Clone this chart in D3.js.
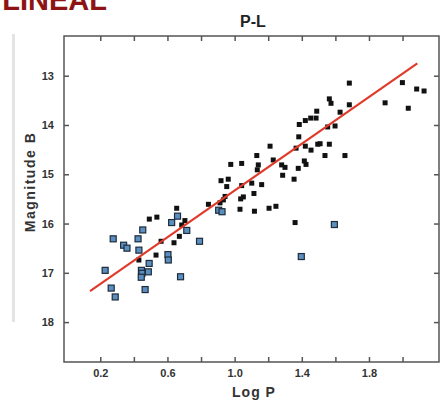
<!DOCTYPE html>
<html>
<head>
  <meta charset="utf-8">
  <title>P-L</title>
  <script src="https://cdn.jsdelivr.net/npm/d3@7/dist/d3.min.js"></script>
  <style>
    body { margin: 0; background: #fff; }
    text { font-family: Arial, "Liberation Sans", sans-serif; }
  </style>
</head>
<body>
<script>
// Log P / Magnitude B
var blackLogP = [1.683,1.999,2.084,2.128,1.896,2.034,1.564,1.574,1.683,1.489,1.628,1.453,1.421,1.485,1.385,1.554,1.598,1.382,
  1.211,1.366,1.421,1.455,1.495,1.509,1.564,1.538,1.657,1.132,1.230,1.280,1.300,1.141,1.135,1.042,1.286,1.379,1.415,1.425,
  1.354,1.102,1.161,1.042,1.115,1.052,1.036,1.205,1.246,1.118,1.360,0.977,0.919,0.962,0.953,0.943,0.913,0.933,0.844,1.032,
  0.655,0.492,0.537,0.704,0.685,0.671,0.639,0.562,0.532,0.430];
var blackMag = [13.15,13.14,13.27,13.31,13.55,13.66,13.47,13.56,13.59,13.72,13.74,13.86,13.91,13.86,13.99,14.04,14.02,14.24,
  14.43,14.47,14.43,14.51,14.39,14.38,14.39,14.62,14.62,14.62,14.71,14.81,14.86,14.81,14.91,14.78,15.02,14.88,14.73,14.80,
  15.10,15.18,15.21,15.23,15.39,15.46,15.50,15.69,15.65,15.75,15.98,14.80,15.13,15.10,15.25,15.45,15.58,15.52,15.61,15.71,
  15.69,15.91,15.87,15.94,16.03,16.26,16.39,16.36,16.64,16.74];

var blueLogP = [1.594,1.397,0.715,0.905,0.925,0.660,0.625,0.453,0.791,0.277,0.339,0.359,0.425,0.430,0.603,0.605,0.491,
  0.229,0.445,0.486,0.448,0.444,0.678,0.265,0.467,0.289];
var blueMag = [16.02,16.67,16.14,15.73,15.76,15.85,15.98,16.13,16.36,16.31,16.44,16.50,16.31,16.54,16.63,16.74,16.81,
  16.95,16.95,16.98,17.01,17.09,17.08,17.31,17.34,17.49];

// fitted line ends
var fitLogP = [0.139, 2.088];
var fitMag = [17.37, 12.75];

var xTicks = [0.2,0.4,0.6,0.8,1.0,1.2,1.4,1.6,1.8,2.0];
var xLabels = ["0.2","0.6","1.0","1.4","1.8"];
var yTicks = [13,14,15,16,17,18];

var W = 440, H = 401;
var mLeft = 64, mRight = 439, mTop = 36, mBottom = 362;

var svg = d3.select("body").append("svg").attr("width", W).attr("height", H);

// bits of the slide behind the chart
svg.append("rect").attr("x", 12).attr("y", 34).attr("width", 3).attr("height", 288).attr("fill", "#e4e4e4");
svg.append("text").attr("x", 107).attr("y", 10).attr("text-anchor", "end")
  .attr("font-size", 29).attr("font-weight", "bold").attr("fill", "#8e1414").text("LINEAL");

var x = d3.scaleLinear().domain([-0.016, 2.217]).range([mLeft, mRight]);
var y = d3.scaleLinear().domain([12.194, 18.81]).range([mTop, mBottom]);

function fmtX(d) {
  var s = d3.format(".1f")(d);
  return xLabels.indexOf(s) >= 0 ? s : "";
}

var gB = svg.append("g").attr("transform", "translate(0," + mBottom + ")")
  .call(d3.axisBottom(x).tickValues(xTicks).tickSize(-5).tickPadding(7).tickFormat(fmtX));
var gT = svg.append("g").attr("transform", "translate(0," + mTop + ")")
  .call(d3.axisTop(x).tickValues(xTicks).tickSize(-5).tickFormat(""));
var gL = svg.append("g").attr("transform", "translate(" + mLeft + ",0)")
  .call(d3.axisLeft(y).tickValues(yTicks).tickSize(-5).tickPadding(10).tickFormat(d3.format("d")));
var gR = svg.append("g").attr("transform", "translate(" + mRight + ",0)")
  .call(d3.axisRight(y).tickValues(yTicks).tickSize(-5).tickFormat(""));

[gB, gT, gL, gR].forEach(function(g) {
  g.select(".domain").remove();
  g.selectAll(".tick line").attr("stroke", "#555").attr("stroke-width", 1.5);
  g.selectAll(".tick text").attr("font-size", 11).attr("font-weight", "bold").attr("fill", "#333")
    .attr("font-family", "Arial, 'Liberation Sans', sans-serif");
});

svg.append("rect").attr("x", mLeft).attr("y", mTop).attr("width", mRight - mLeft).attr("height", mBottom - mTop)
  .attr("fill", "none").attr("stroke", "#555").attr("stroke-width", 1.5);

// black points
svg.append("g").selectAll("rect").data(blackLogP).enter().append("rect")
  .attr("x", function(d) { return x(d) - 2.5; })
  .attr("y", function(d, i) { return y(blackMag[i]) - 2.5; })
  .attr("width", 5).attr("height", 5)
  .attr("fill", "#111");

// blue points
svg.append("g").selectAll("rect").data(blueLogP).enter().append("rect")
  .attr("x", function(d) { return x(d) - 3; })
  .attr("y", function(d, i) { return y(blueMag[i]) - 3; })
  .attr("width", 6).attr("height", 6)
  .attr("fill", "#5b8fc0").attr("stroke", "#1d2b3a").attr("stroke-width", 1.2);

// fit line
svg.append("line")
  .attr("x1", x(fitLogP[0])).attr("y1", y(fitMag[0]))
  .attr("x2", x(fitLogP[1])).attr("y2", y(fitMag[1]))
  .attr("stroke", "#e03a2a").attr("stroke-width", 2.2);

// titles
svg.append("text").attr("x", 253).attr("y", 27).attr("text-anchor", "middle")
  .attr("font-size", 16).attr("font-weight", "bold").attr("fill", "#222").text("P-L");
svg.append("text").attr("x", 254).attr("y", 397).attr("text-anchor", "middle")
  .attr("font-size", 14).attr("font-weight", "bold").attr("letter-spacing", 1).attr("fill", "#333").text("Log P");
svg.append("text").attr("transform", "translate(35,182) rotate(-90)").attr("text-anchor", "middle")
  .attr("font-size", 14).attr("font-weight", "bold").attr("letter-spacing", 1.5).attr("fill", "#333").text("Magnitude B");
</script>
</body>
</html>
